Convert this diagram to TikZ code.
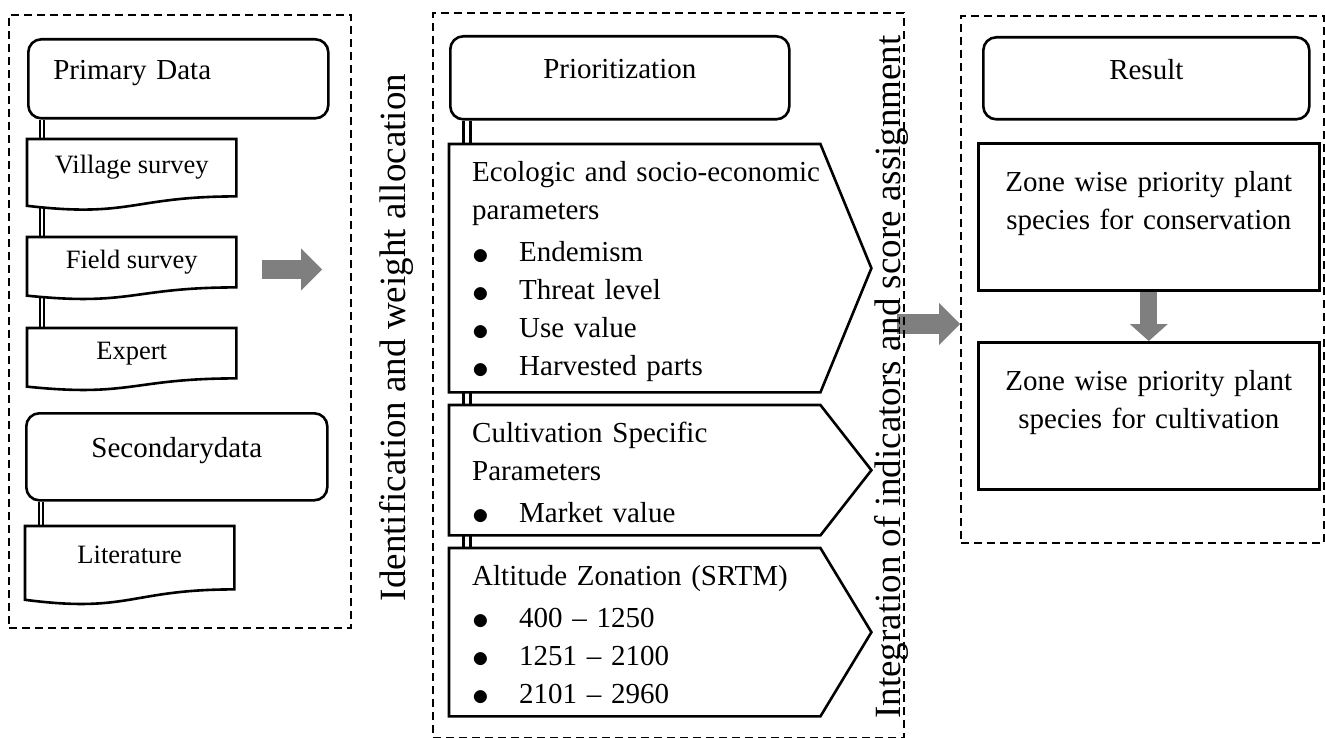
\documentclass[tikz,border=0pt]{standalone}
\usepackage{fontspec}
\setmainfont{Liberation Serif}
\usepackage{tikz}
\usetikzlibrary{positioning,calc,arrows.meta,backgrounds}
\definecolor{arrowgray}{RGB}{127,127,127}

% bullet item inside the parameter panels
\newcommand{\itm}[1]{\makebox[47pt][l]{\raisebox{-2.2pt}{\scalebox{1.35}{$\bullet$}}}#1}
% document outline with wavy bottom (#1 node, #2 body height)
\newcommand{\docpath}[2]{%
  \draw[outline] (#1.north west) -- (#1.north east) -- (#1.south east)
    .. controls (#1.south) and ($(#1.south)+(0,0.381*#2)$) .. ($(#1.south west)+(0,0.165*#2)$) -- cycle;}
% pentagon outline of a parameter panel
\newcommand{\pentpath}[1]{%
  \draw[outline] (#1.north west) -- (#1.north east) -- ($(#1.east)+(51,0)$) -- (#1.south east) -- (#1.south west) -- cycle;}

\tikzset{
  dashbox/.style={draw, dash pattern=on 8pt off 5pt, line width=2pt, anchor=north west, inner sep=0pt},
  headbox/.style={draw, rounded corners=13pt, line width=2.6pt, fill=white, anchor=north west, inner sep=0pt,
    text height=20pt, text depth=18pt, font=\fontsize{29pt}{38pt}\selectfont},
  docbox/.style={anchor=north west, inner sep=0pt, minimum width=209pt, text height=18pt, text depth=6pt,
    font=\fontsize{26.5pt}{32pt}\selectfont},
  outline/.style={draw, line width=2.6pt, fill=white},
  panel/.style={anchor=north west, inner sep=0pt, minimum width=371pt},
  paneltext/.style={anchor=base west, inner sep=0pt, text width=352pt, align=left,
    font=\fontsize{29pt}{38pt}\selectfont},
  zonebox/.style={draw, line width=2.6pt, fill=white, anchor=north west, inner sep=0pt,
    minimum width=341pt, minimum height=147pt, text width=330pt, align=center,
    text height=20pt, text depth=70pt, font=\fontsize{29pt}{38pt}\selectfont},
  sidetitle/.style={rotate=90, anchor=base, inner sep=0pt, font=\fontsize{37pt}{44pt}\selectfont},
  linkA/.style={double, double distance=2pt, line width=1.7pt},
  linkB/.style={double, double distance=4.5pt, line width=2.6pt},
  fatarrow/.style={draw=arrowgray, line width=20pt, -{Triangle[length=21pt, width=42pt, line width=0pt]}},
}

\begin{document}
\begin{tikzpicture}[x=1pt, y=-1pt]
    \useasboundingbox (0,0) rectangle (1325,738);

    % Data collection
    \node[dashbox, minimum width=342pt, minimum height=613pt] (leftbox) at (8,14) {};
    \node[headbox, minimum width=300pt, minimum height=79pt, text width=250pt, align=left] (prim) at (27,38) {Primary Data};
    \node[docbox, minimum height=57pt] (vil) at (27,139) {Village survey};
    \node[docbox, minimum height=50pt] (fld) at (27,237) {Field survey};
    \node[docbox, minimum height=50pt] (exp) at (27,328) {Expert};
    \node[headbox, minimum width=301pt, minimum height=87pt] (sec) at (25,412) {Secondarydata};
    \node[docbox, minimum height=63pt] (lit) at (25,526) {Literature};
    \coordinate (la) at (262,269.5);
    \coordinate (lb) at (322,269.5);

    \node[sidetitle] (lefttitle) at (405,337.5) {Identification and weight allocation};

    % Prioritization
    \node[dashbox, minimum width=471pt, minimum height=725pt] (midbox) at (432,12) {};
    \node[headbox, minimum width=339pt, minimum height=83pt] (prio) at (449,35) {Prioritization};
    \node[panel, minimum height=248pt] (eco) at (449,144) {};
    \node[paneltext] (ecotxt) at (472,182) {Ecologic and socio-economic\\parameters\\[4pt]\itm{Endemism}\\\itm{Threat level}\\\itm{Use value}\\\itm{Harvested parts}};
    \node[panel, minimum height=130pt] (cult) at (449,405) {};
    \node[paneltext] (culttxt) at (472,442) {Cultivation Specific\\Parameters\\[4pt]\itm{Market value}};
    \node[panel, minimum height=168pt] (alt) at (449,548) {};
    \node[paneltext] (alttxt) at (472,585) {Altitude Zonation (SRTM)\\[4pt]\itm{400 -- 1250}\\\itm{1251 -- 2100}\\\itm{2101 -- 2960}};

    \node[sidetitle] (righttitle) at (900,377) {Integration of indicators and score assignment};

    % Result
    \node[dashbox, minimum width=363pt, minimum height=527pt] (rightbox) at (960,15) {};
    \node[headbox, minimum width=326pt, minimum height=82pt] (res) at (982,36) {Result};
    \node[zonebox] (zcons) at (977,142) {Zone wise priority plant\\species for conservation};
    \node[zonebox] (zcult) at (977,341) {Zone wise priority plant\\species for cultivation};
    \coordinate (ma) at (897,324);

    \begin{pgfonlayer}{background}
        % links
        \draw[linkA] ([xshift=15pt]prim.south west) -- ([xshift=15pt]vil.north west);
        \draw[linkA] ([xshift=15pt]vil.south west) -- ([xshift=15pt]fld.north west);
        \draw[linkA] ([xshift=15pt]fld.south west) -- ([xshift=15pt]exp.north west);
        \draw[linkA] ([xshift=16pt]sec.south west) -- ([xshift=16pt]lit.north west);
        \draw[linkB] ([xshift=18pt]prio.south west) -- ([xshift=18pt]eco.north west);
        \draw[linkB] ([xshift=18pt]eco.south west) -- ([xshift=18pt]cult.north west);
        \draw[linkB] ([xshift=18pt]cult.south west) -- ([xshift=18pt]alt.north west);
        % outlines
        \docpath{vil}{57}
        \docpath{fld}{50}
        \docpath{exp}{50}
        \docpath{lit}{63}
        \pentpath{eco}
        \pentpath{cult}
        \pentpath{alt}
        % grey arrows
        \draw[fatarrow, line width=19pt] (la) -- (lb);
        \draw[fatarrow] (ma) -- (ma -| rightbox.west);
        \draw[fatarrow, line width=17pt, -{Triangle[length=17pt, width=38pt, line width=0pt]}] (zcons.south) -- (zcult.north);
    \end{pgfonlayer}
\end{tikzpicture}
\end{document}
